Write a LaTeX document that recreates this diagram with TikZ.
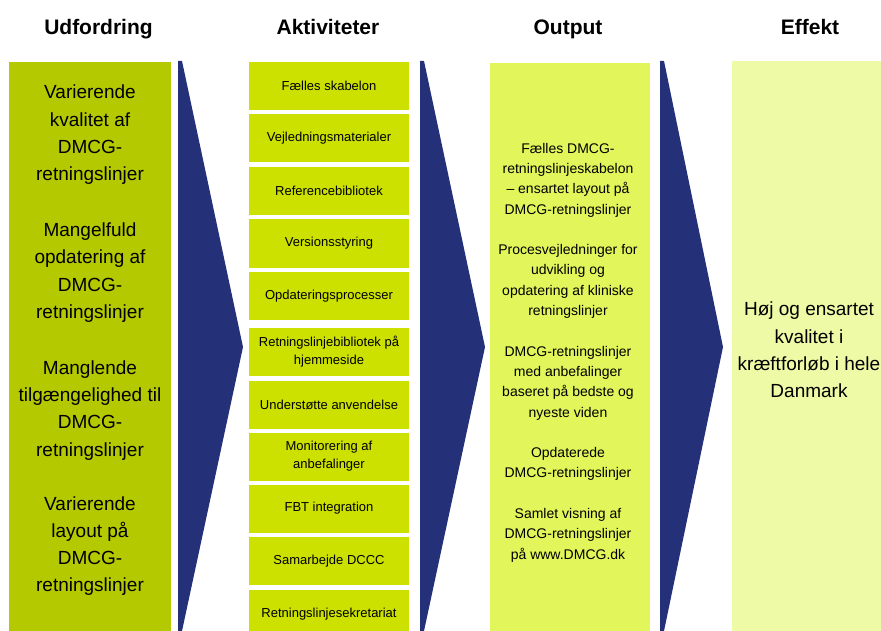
\documentclass[tikz,border=0pt]{standalone}
\usepackage{fontspec}
\setmainfont{Liberation Sans}
\definecolor{navy}{RGB}{36,48,120}
\definecolor{udf}{RGB}{181,201,0}
\definecolor{akt}{RGB}{204,225,0}
\definecolor{outc}{RGB}{226,245,90}
\definecolor{eff}{RGB}{238,250,165}
\begin{document}
\begin{tikzpicture}[x=1pt,y=-1pt,
  head/.style={font=\fontsize{21}{25}\selectfont\bfseries, inner sep=0, anchor=base},
  panel/.style={inner sep=0, outer sep=0},
  big/.style={font=\fontsize{19}{27.2}\selectfont, align=center, inner sep=0},
  mid/.style={font=\fontsize{14}{20.3}\selectfont, align=center, inner sep=0},
  aktbox/.style={fill=akt, minimum width=160pt, minimum height=48pt, inner sep=0,
    font=\fontsize{13}{18}\selectfont, align=center},
  chev/.style={fill=navy}]
\useasboundingbox (0,0) rectangle (881,631);
\clip (0,0) rectangle (881,631);
% headings
\node[head] (h1) at (98.5,35) {Udfordring};
\node[head] (h2) at (328,35) {Aktiviteter};
\node[head] (h3) at (568,35) {Output};
\node[head] (h4) at (810,35) {Effekt};
% column 1
\node[panel, fill=udf, minimum width=162pt, minimum height=569pt] (udf) at (90,346.5) {};
\node[big] (udftext) at (90,340.5) {Varierende\\kvalitet af\\DMCG-\\retningslinjer\\[29pt]
Mangelfuld\\opdatering af\\DMCG-\\retningslinjer\\[29pt]
Manglende\\tilgængelighed til\\DMCG-\\retningslinjer\\[27pt]
Varierende\\layout på\\DMCG-\\retningslinjer};
% chevrons
\fill[chev] (178,61) -- (182,61) -- (243,347) -- (182,631) -- (178,631) -- cycle;
\fill[chev] (420,61) -- (424,61) -- (485,347) -- (424,631) -- (420,631) -- cycle;
\fill[chev] (660,61) -- (664,61) -- (723,347) -- (664,631) -- (660,631) -- cycle;
% activities
\node[aktbox] (a1) at (329,86) {Fælles skabelon};
\node[aktbox] (a2) at (329,138.5) {Vejledningsmaterialer};
\node[aktbox] (a3) at (329,191) {Referencebibliotek};
\node[aktbox] (a4) at (329,243.5) {Versionsstyring};
\node[aktbox] (a5) at (329,296) {Opdateringsprocesser};
\node[aktbox] (a6) at (329,351.5) {Retningslinjebibliotek på\\hjemmeside};
\node[aktbox] (a7) at (329,404.5) {Understøtte anvendelse};
\node[aktbox] (a8) at (329,456.5) {Monitorering af\\anbefalinger};
\node[aktbox] (a9) at (329,508.5) {FBT integration};
\node[aktbox] (a10) at (329,561) {Samarbejde DCCC};
\node[aktbox] (a11) at (329,614) {Retningslinjesekretariat};
% output
\node[panel, fill=outc, minimum width=160pt, minimum height=568pt] (out) at (570,347) {};
\node[mid] (outtext) at (568,352.5) {Fælles DMCG-\\retningslinjeskabelon\\– ensartet layout på\\DMCG-retningslinjer\\[20.3pt]
Procesvejledninger for\\udvikling og\\opdatering af kliniske\\retningslinjer\\[20.3pt]
DMCG-retningslinjer\\med anbefalinger\\baseret på bedste og\\nyeste viden\\[20.3pt]
Opdaterede\\DMCG-retningslinjer\\[20.3pt]
Samlet visning af\\DMCG-retningslinjer\\på www.DMCG.dk};
% effekt
\node[panel, fill=eff, minimum width=149pt, minimum height=570pt] (eff) at (806.5,346) {};
\node[big] (efftext) at (809,350) {Høj og ensartet\\kvalitet i\\kræftforløb i hele\\Danmark};
\end{tikzpicture}
\end{document}
